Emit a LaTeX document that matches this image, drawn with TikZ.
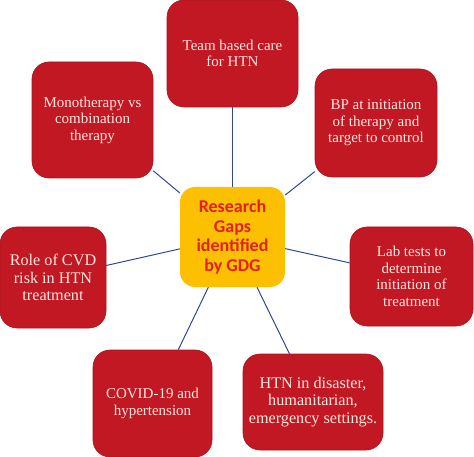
\documentclass[tikz,border=0pt]{standalone}
\usepackage{fontspec}
\setmainfont{Liberation Serif}
\newfontfamily\calib{Carlito}
\definecolor{boxred}{RGB}{193,24,36}
\definecolor{boxedge}{RGB}{170,20,30}
\definecolor{txtpink}{RGB}{252,232,224}
\definecolor{gold}{RGB}{253,192,0}
\definecolor{hred}{RGB}{228,32,30}
\definecolor{linkblue}{RGB}{47,72,150}
\tikzset{
  gapbox/.style={fill=boxred, draw=boxedge, line width=0.6pt, rounded corners=17pt,
    text=txtpink, align=center, inner sep=0pt,
    font=\fontsize{15}{16.5}\selectfont},
  bigtext/.style={font=\fontsize{16.2}{17.5}\selectfont},
  hub/.style={fill=gold, rounded corners=15pt, text=hred, align=center, inner sep=0pt,
    font=\calib\bfseries\fontsize{18}{19.7}\selectfont},
  link/.style={draw=linkblue, line width=1pt}
}
\begin{document}
\begin{tikzpicture}[x=1pt,y=-1pt]
\useasboundingbox (0,0) rectangle (474,457);
\node[hub, minimum width=105pt, minimum height=100pt] (c) at (232.5,237) {Research\\Gaps\\identified\\by GDG};
\node[gapbox, minimum width=131pt, minimum height=107pt] (t) at (232.5,53.5) {Team based care\\for HTN};
\node[gapbox, minimum width=121pt, minimum height=116pt] (m) at (92.5,120) {Monotherapy vs\\combination\\therapy};
\node[gapbox, minimum width=122pt, minimum height=108pt] (b) at (376,123) {BP at initiation\\of therapy and\\target to control};
\node[gapbox, minimum width=123pt, minimum height=99pt] (l) at (411.5,276.5) {Lab tests to\\determine\\initiation of\\treatment};
\node[gapbox, bigtext, minimum width=106pt, minimum height=101pt] (r) at (53,277.5) {Role of CVD\\risk in HTN\\treatment};
\node[gapbox, minimum width=119pt, minimum height=107pt] (v) at (152.5,403.5) {COVID-19 and\\hypertension};
\node[gapbox, bigtext, minimum width=140pt, minimum height=96pt] (h) at (313,402) {HTN in disaster,\\humanitarian,\\emergency settings.};
\foreach \n in {t,m,b,l,r,v,h} \draw[link] (c) -- (\n);
\end{tikzpicture}
\end{document}
